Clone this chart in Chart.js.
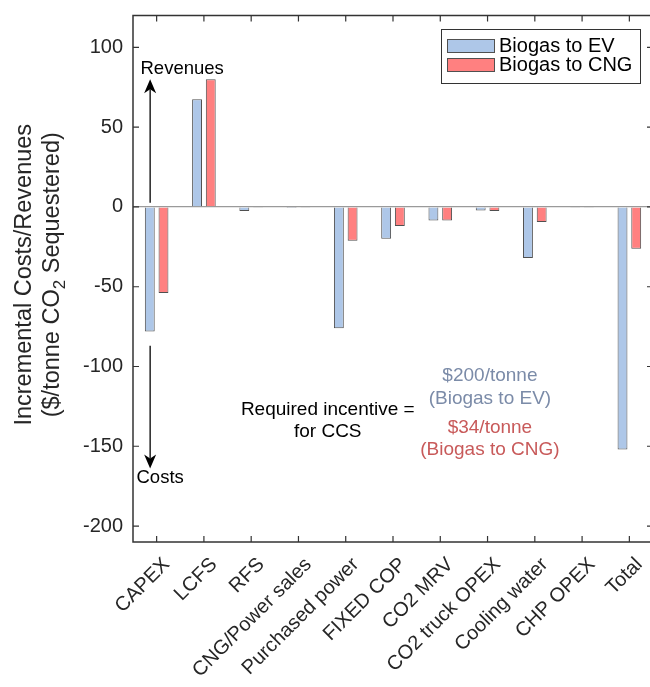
<!DOCTYPE html>
<html>
<head>
<meta charset="utf-8">
<script src="https://cdn.jsdelivr.net/npm/chart.js@4"></script>
<style>
	html, body { margin: 0; padding: 0; background: #fff; overflow: hidden; }
	#wrap { width: 656px; height: 687px; }
</style>
</head>
<body>
<div id="wrap"><canvas id="costChart" width="656" height="687"></canvas></div>
<script>
//CHART DATA
const categories = ["CAPEX", "LCFS", "RFS", "CNG/Power sales", "Purchased power", "FIXED COP", "CO2 MRV", "CO2 truck OPEX", "Cooling water", "CHP OPEX", "Total"];
const biogasToEV = [-78, 67.5, -2.6, -0.7, -76, -20, -8.5, -2.3, -32, -0.2, -152];
const biogasToCNG = [-54, 80, -0.2, -0.2, -21.2, -12, -8.5, -2.5, -9.4, -0.2, -26.2];
const yTicks = [-200, -150, -100, -50, 0, 50, 100];
const seriesNames = ["Biogas to EV", "Biogas to CNG"];

const FONT = "'Liberation Sans', Arial, Helvetica, sans-serif";
const AXIS_COLOR = "#333333";

//DRAW BOX, INWARD TICKS, LEGEND, TITLE AND NOTES
const matlabLook = {
	id: "matlabLook",
	afterDraw(chart) {
		const ctx = chart.ctx;
		const a = chart.chartArea;
		const xs = chart.scales.x;
		const ys = chart.scales.y;
		ctx.save();

		// box + inward ticks
		ctx.strokeStyle = AXIS_COLOR;
		ctx.lineWidth = 1.5;
		ctx.strokeRect(a.left, a.top, a.right - a.left, a.bottom - a.top);
		ctx.lineWidth = 1.2;
		ctx.beginPath();
		categories.forEach((c, i) => {
			const px = xs.getPixelForValue(i);
			ctx.moveTo(px, a.bottom); ctx.lineTo(px, a.bottom - 6);
			ctx.moveTo(px, a.top); ctx.lineTo(px, a.top + 6);
		});
		yTicks.forEach((v) => {
			const py = ys.getPixelForValue(v);
			ctx.moveTo(a.left, py); ctx.lineTo(a.left + 6, py);
			ctx.moveTo(a.right, py); ctx.lineTo(a.right - 6, py);
		});
		ctx.stroke();

		// y axis title (two lines, rotated)
		ctx.fillStyle = "#262626";
		ctx.font = "23.5px " + FONT;
		ctx.textBaseline = "middle";
		const cy = (a.top + a.bottom) / 2 - 4;
		ctx.translate(25, cy);
		ctx.rotate(-Math.PI / 2);
		ctx.textAlign = "center";
		ctx.fillText("Incremental Costs/Revenues", 0, 0);
		const p1 = "($/tonne CO", p2 = "2", p3 = " Sequestered)";
		const w1 = ctx.measureText(p1).width;
		const w3 = ctx.measureText(p3).width;
		ctx.font = "17px " + FONT;
		const w2 = ctx.measureText(p2).width;
		const total = w1 + w2 + w3;
		ctx.textAlign = "left";
		let sx = -total / 2;
		ctx.font = "23.5px " + FONT;
		ctx.fillText(p1, sx, 28);
		ctx.font = "17px " + FONT;
		ctx.fillText(p2, sx + w1, 35);
		ctx.font = "23.5px " + FONT;
		ctx.fillText(p3, sx + w1 + w2, 28);
		ctx.setTransform(1, 0, 0, 1, 0, 0);

		// revenue / cost arrows
		const ax = xs.getPixelForValue(0) - 6.5;
		const arrow = (y0, y1) => {
			const dir = y1 < y0 ? 1 : -1;
			ctx.strokeStyle = "#000";
			ctx.fillStyle = "#000";
			ctx.lineWidth = 1.3;
			ctx.beginPath();
			ctx.moveTo(ax, y0); ctx.lineTo(ax, y1 + dir * 10);
			ctx.stroke();
			ctx.beginPath();
			ctx.moveTo(ax, y1);
			ctx.lineTo(ax - 6, y1 + dir * 14);
			ctx.lineTo(ax, y1 + dir * 10);
			ctx.lineTo(ax + 6, y1 + dir * 14);
			ctx.closePath();
			ctx.fill();
		};
		arrow(ys.getPixelForValue(2.7), ys.getPixelForValue(80));
		arrow(ys.getPixelForValue(-87), ys.getPixelForValue(-164));
		ctx.fillStyle = "#000";
		ctx.font = "18.5px " + FONT;
		ctx.textAlign = "center";
		ctx.textBaseline = "middle";
		ctx.fillText("Revenues", ax + 32, ys.getPixelForValue(86.5));
		ctx.fillText("Costs", ax + 10, ys.getPixelForValue(-170));

		// incentive notes
		ctx.font = "19px " + FONT;
		const nx = xs.getPixelForValue(3.62);
		ctx.fillText("Required incentive =", nx, ys.getPixelForValue(-127));
		ctx.fillText("for CCS", nx, ys.getPixelForValue(-141));
		const mx = xs.getPixelForValue(7.05);
		ctx.fillStyle = "#7b8ba8";
		ctx.fillText("$200/tonne", mx, ys.getPixelForValue(-106));
		ctx.fillText("(Biogas to EV)", mx, ys.getPixelForValue(-120));
		ctx.fillStyle = "#c85a5a";
		ctx.fillText("$34/tonne", mx, ys.getPixelForValue(-138.5));
		ctx.fillText("(Biogas to CNG)", mx, ys.getPixelForValue(-152.5));

		// legend box
		const lx = 441, ly = 29, lw = 199, lh = 54;
		ctx.fillStyle = "#fff";
		ctx.fillRect(lx, ly, lw, lh);
		ctx.strokeStyle = AXIS_COLOR;
		ctx.lineWidth = 1;
		ctx.strokeRect(lx + 0.5, ly + 0.5, lw, lh);
		chart.data.datasets.forEach((ds, i) => {
			const ry = ly + 10 + i * 19;
			ctx.fillStyle = ds.backgroundColor;
			ctx.fillRect(lx + 6, ry, 47, 13);
			ctx.strokeStyle = ds.borderColor;
			ctx.strokeRect(lx + 6.5, ry + 0.5, 47, 13);
			ctx.fillStyle = "#000";
			ctx.font = "20px " + FONT;
			ctx.textAlign = "left";
			ctx.fillText(ds.label, lx + 58, ry + 7);
		});
		ctx.restore();
	},
};

//BAR CHART
const costChart = new Chart(document.getElementById("costChart").getContext("2d"), {
	type: "bar",
	data: {
		labels: categories,
		datasets: [
			{
				label: seriesNames[0],
				data: biogasToEV,
				backgroundColor: "rgb(174, 199, 232)",
				borderColor: "#505050",
				borderWidth: 1,
			},
			{
				label: seriesNames[1],
				data: biogasToCNG,
				backgroundColor: "rgb(255, 128, 128)",
				borderColor: "#505050",
				borderWidth: 1,
			},
		],
	},
	options: {
		responsive: false,
		animation: false,
		categoryPercentage: 0.58,
		barPercentage: 0.72,
		layout: { padding: { top: 15.5, right: 3, left: 0, bottom: 0 } },
		plugins: {
			legend: { display: false },
			tooltip: { enabled: false },
		},
		scales: {
			x: {
				grid: { display: false, drawTicks: false },
				border: { display: false },
				ticks: {
					color: "#262626",
					font: { family: FONT, size: 20 },
					maxRotation: 45,
					minRotation: 45,
					padding: 11,
					labelOffset: 10,
				},
				afterFit: (scale) => {
					scale.height = 145;
					scale.paddingRight = 0;
					scale.paddingLeft = 0;
				},
			},
			y: {
				min: -210,
				max: 120,
				afterBuildTicks: (scale) => { scale.ticks = yTicks.map((v) => ({ value: v })); },
				grid: {
					drawTicks: false,
					color: (c) => (c.tick && c.tick.value === 0 ? "#9a9a9a" : "rgba(0,0,0,0)"),
					lineWidth: 1.2,
				},
				border: { display: false },
				ticks: {
					color: "#262626",
					font: { family: FONT, size: 20 },
					padding: 10,
				},
				afterFit: (scale) => {
					scale.width = 133;
					scale.paddingTop = 0;
					scale.paddingBottom = 0;
				},
			},
		},
	},
	plugins: [matlabLook],
});
</script>
</body>
</html>
